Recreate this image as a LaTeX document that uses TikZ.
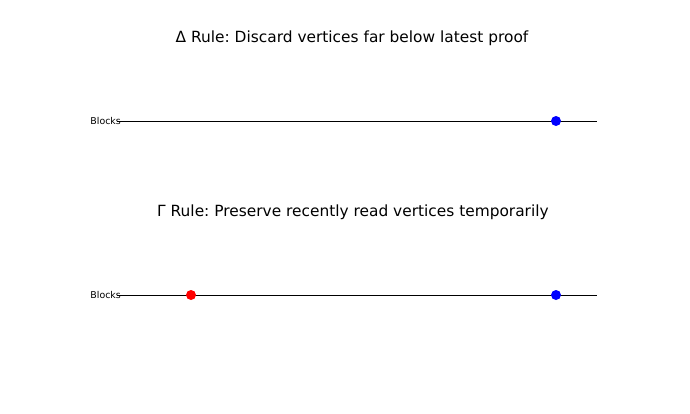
\documentclass[tikz,border=0pt]{standalone}
\usepackage{fontspec}
\setmainfont{DejaVu Sans}
\frenchspacing
\usepackage{tikz}
\usetikzlibrary{calc,positioning}
\tikzset{
  ttl/.style={font=\fontsize{15.4}{18}\selectfont, inner sep=0pt},
  lbl/.style={font=\fontsize{9.4}{11}\selectfont, inner sep=0pt, anchor=east},
  blk/.style={draw=black, line width=0.8pt},
  dotb/.style={circle, fill=blue, inner sep=0pt, minimum size=10pt},
  dotr/.style={circle, fill=red, inner sep=0pt, minimum size=10pt},
}
\begin{document}
\begin{tikzpicture}[x=1pt, y=-1pt]
   \useasboundingbox (0,0) rectangle (690,413);
   % Delta rule
   \node[ttl] (t1) at (352,38) {Δ Rule: Discard vertices far below latest proof};
   \coordinate (s1) at (117,121);
   \coordinate (e1) at (597,121);
   \path[blk] (s1) -- (e1);
   \node[lbl] (b1) at (121,121) {Blocks};
   \node[dotb] (p1) at (556,121) {};
   % Gamma rule
   \node[ttl] (t2) at (353,212) {Γ Rule: Preserve recently read vertices temporarily};
   \coordinate (s2) at (117,295);
   \coordinate (e2) at (597,295);
   \path[blk] (s2) -- (e2);
   \node[lbl] (b2) at (121,295) {Blocks};
   \node[dotr] (r2) at (191,295) {};
   \node[dotb] (p2) at (556,295) {};
\end{tikzpicture}
\end{document}
